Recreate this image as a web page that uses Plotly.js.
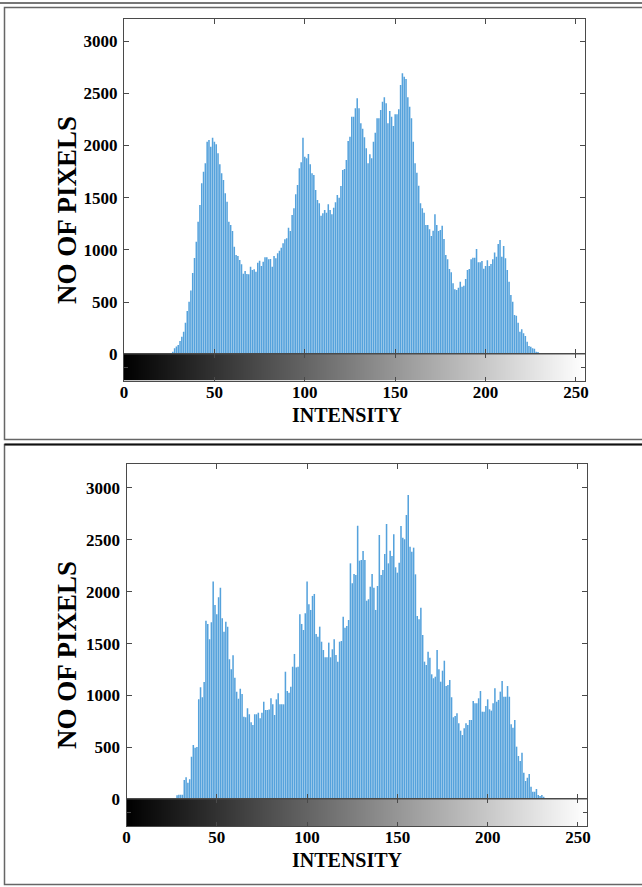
<!DOCTYPE html>
<html><head><meta charset="utf-8">
<script src="https://cdn.plot.ly/plotly-3.0.1.min.js"></script>
<style>html,body{margin:0;padding:0;background:#fff;overflow:hidden;} #chart{width:642px;height:887px;}</style>
</head><body><div id="chart"></div>
<script>
// ---- data ----
const intensity = Array.from({length: 256}, (_, i) => i);   // bin categories 0..255

const topCounts = [
  0,0,0,0,0,0,0,0,0,0,0,0,0,0,0,0,
  0,0,0,0,0,0,0,0,0,0,10,25,57,75,89,127,
  169,217,303,415,504,610,778,922,1079,1270,1430,1638,1749,1829,2036,2053,
  1989,2075,2036,2011,1925,1820,1734,1670,1542,1462,1270,1239,1181,1031,951,942,
  903,862,772,798,769,766,839,807,814,791,877,897,846,887,929,929,
  910,913,839,942,920,967,992,1021,1063,1101,1111,1213,1181,1334,1398,1533,
  1622,1782,1839,2075,1893,1877,1919,1820,1734,1718,1574,1478,1446,1328,1351,1382,
  1356,1437,1382,1341,1404,1456,1526,1500,1612,1765,1775,1861,2043,2084,2276,2276,
  2356,2452,2356,2213,2160,2079,1973,1829,1916,1877,2036,2123,2261,2261,2340,2420,
  2462,2404,2213,2331,2276,2187,2299,2299,2347,2580,2692,2659,2637,2462,2372,2261,
  2036,1829,1739,1615,1446,1398,1356,1239,1239,1197,1133,1184,1341,1239,1181,1191,
  1232,1104,951,910,817,785,680,623,616,638,695,648,657,721,807,817,
  910,925,925,1009,881,881,894,820,846,900,846,864,910,974,935,1057,
  1095,935,1037,920,807,695,568,504,376,370,303,217,239,201,175,121,
  79,73,57,53,25,22,12,5,3,0,0,0,0,0,0,0,
  0,0,0,0,0,0,0,0,0,0,0,0,0,0,0,0
];

const bottomCounts = [
  0,0,0,0,0,0,0,0,0,0,0,0,0,0,0,0,
  0,0,0,0,0,0,0,0,0,10,8,12,39,45,45,45,
  186,212,160,193,411,523,497,505,963,1079,983,1130,1721,1689,1541,1705,
  2097,1872,1782,1946,2039,1744,1615,1711,1663,1349,1252,1387,1172,1037,969,1066,
  1015,796,790,877,819,742,716,819,819,834,780,834,940,860,860,866,
  973,915,812,963,1021,915,915,915,1229,1043,1027,1085,1277,1400,1271,1277,
  1782,1689,1631,1792,2097,1879,1824,1959,1978,1593,1567,1663,1518,1438,1368,1368,
  1509,1368,1445,1541,1390,1326,1518,1525,1759,1653,1669,1727,2273,2081,2170,2161,
  2636,2299,2305,2392,2305,1913,1927,2048,2170,2039,1824,2055,2546,2161,2209,2363,
  2652,2273,2395,2344,2553,2235,2183,2279,2633,2520,2505,2739,2932,2433,2385,2424,
  2167,1766,1734,1846,1583,1326,1294,1422,1364,1204,1166,1181,1438,1252,1133,1239,
  1335,1091,1101,1149,983,790,802,828,732,661,619,684,732,716,764,764,
  947,925,925,973,1043,844,844,899,963,867,854,925,1069,940,957,1037,
  1140,988,988,1091,988,722,690,764,507,417,369,449,256,176,208,244,
  121,73,73,99,41,32,41,25,10,5,3,0,0,0,0,0,
  0,0,0,0,0,0,0,0,0,0,0,0,0,0,0,0
];

const xTickVals = [0, 50, 100, 150, 200, 250];
const yTickVals = [0, 500, 1000, 1500, 2000, 2500, 3000];
const yTitle = 'NO OF PIXELS';
const xTitle = 'INTENSITY';

// ---- layout helpers (pixel -> paper) ----
const W = 642, H = 887;
const fx = p => p / W;
const fy = p => 1 - p / H;
const FONT = '"Liberation Serif", "Times New Roman", serif';
const AX = '#4a4a4a';
const BAR = '#55a2dc';

const tickFont = {family: FONT, size: 17, color: '#000', weight: 'bold'};

function histX(dom, anchor) {
  return {domain: dom, anchor: anchor, range: [0, 255], tickvals: xTickVals, ticks: 'inside', ticklen: 5,
    tickcolor: AX, showticklabels: false, showline: true, linecolor: AX, linewidth: 1, mirror: 'ticks',
    showgrid: false, zeroline: false, fixedrange: true};
}
function histY(dom, anchor, top) {
  return {domain: dom, anchor: anchor, range: [0, top], tickvals: yTickVals, ticks: 'inside', ticklen: 5,
    tickcolor: AX, tickfont: tickFont, showline: true, linecolor: AX, linewidth: 1, mirror: 'ticks',
    showgrid: false, zeroline: false, fixedrange: true, ticklabelstandoff: 2};
}
function gradX(dom, anchor) {
  return {domain: dom, anchor: anchor, range: [0, 255], tickvals: xTickVals, ticks: 'inside', ticklen: 4,
    tickcolor: AX, tickfont: tickFont, showline: true, linecolor: AX, linewidth: 1, mirror: 'ticks',
    showgrid: false, zeroline: false, fixedrange: true, ticklabelstandoff: -4};
}
function gradY(dom, anchor) {
  return {domain: dom, anchor: anchor, range: [-0.5, 0.5], tickvals: [0], ticks: 'inside', ticklen: 4,
    tickcolor: AX, showticklabels: false, showline: true, linecolor: AX, linewidth: 1, mirror: 'ticks',
    showgrid: false, zeroline: false, fixedrange: true};
}

const grayScale = [[0, '#000000'], [1, '#ffffff']];

const traces = [
  {type: 'bar', x: intensity, y: topCounts, xaxis: 'x', yaxis: 'y', marker: {color: BAR, line: {width: 0}}, hoverinfo: 'skip'},
  {type: 'heatmap', x: intensity, y: [0], z: [intensity], xaxis: 'x2', yaxis: 'y2', colorscale: grayScale,
   showscale: false, zsmooth: 'best', hoverinfo: 'skip'},
  {type: 'bar', x: intensity, y: bottomCounts, xaxis: 'x3', yaxis: 'y3', marker: {color: BAR, line: {width: 0}}, hoverinfo: 'skip'},
  {type: 'heatmap', x: intensity, y: [0], z: [intensity], xaxis: 'x4', yaxis: 'y4', colorscale: grayScale,
   showscale: false, zsmooth: 'best', hoverinfo: 'skip'}
];

const topXD = [fx(124), fx(585)];
const botXD = [fx(126.5), fx(587)];

const layout = {
  width: W, height: H, autosize: false,
  margin: {l: 0, r: 0, t: 0, b: 0, pad: 0},
  paper_bgcolor: '#fff', plot_bgcolor: '#fff',
  showlegend: false, bargap: 0.15,
  xaxis: histX(topXD, 'y'),
  yaxis: histY([fy(354.3), fy(19)], 'x', 3212),
  xaxis2: gradX(topXD, 'y2'),
  yaxis2: gradY([fy(380.7), fy(354.3)], 'x2'),
  xaxis3: histX(botXD, 'y3'),
  yaxis3: histY([fy(799.3), fy(464.3)], 'x3', 3227),
  xaxis4: gradX(botXD, 'y4'),
  yaxis4: gradY([fy(826), fy(799.3)], 'x4'),
  annotations: [
    {text: yTitle, xref: 'paper', yref: 'paper', x: fx(67), y: fy(210), textangle: -90, showarrow: false,
     xanchor: 'center', yanchor: 'middle', font: {family: FONT, size: 27, color: '#000', weight: 'bold'}},
    {text: xTitle, xref: 'paper', yref: 'paper', x: fx(348), y: fy(415), showarrow: false,
     xanchor: 'center', yanchor: 'middle', font: {family: FONT, size: 20, color: '#000', weight: 'bold'}},
    {text: yTitle, xref: 'paper', yref: 'paper', x: fx(67), y: fy(655), textangle: -90, showarrow: false,
     xanchor: 'center', yanchor: 'middle', font: {family: FONT, size: 27, color: '#000', weight: 'bold'}},
    {text: xTitle, xref: 'paper', yref: 'paper', x: fx(348), y: fy(860), showarrow: false,
     xanchor: 'center', yanchor: 'middle', font: {family: FONT, size: 20, color: '#000', weight: 'bold'}}
  ],
  shapes: [
    {type: 'line', xref: 'paper', yref: 'paper', x0: 0, x1: 1, y0: fy(3), y1: fy(3), line: {color: '#777', width: 2}},
    {type: 'rect', xref: 'paper', yref: 'paper', x0: fx(4.5), x1: fx(660), y0: fy(439.5), y1: fy(7.5), line: {color: '#666', width: 1.5}},
    {type: 'rect', xref: 'paper', yref: 'paper', x0: fx(4.5), x1: fx(660), y0: fy(884.5), y1: fy(444.5), line: {color: '#666', width: 1.5}},
    {type: 'line', xref: 'paper', yref: 'paper', x0: fx(4.5), x1: 1, y0: fy(444.5), y1: fy(444.5), line: {color: '#111', width: 2}}
  ]
};

Plotly.newPlot('chart', traces, layout, {displayModeBar: false, staticPlot: true});
</script>
</body></html>
